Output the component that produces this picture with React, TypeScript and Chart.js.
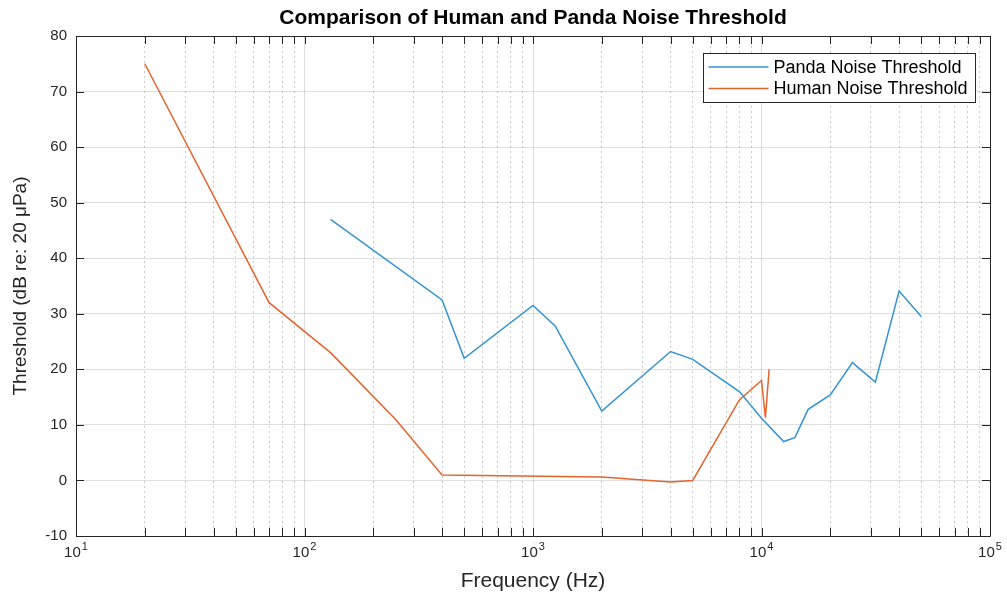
import { useEffect, useRef } from "react";
import { Chart, registerables } from "chart.js";

Chart.register(...registerables);

// ---- data ----
const pandaFreqHz = [130, 400, 500, 1000, 1250, 2000, 4000, 5000, 8000, 10000, 12500, 14000, 16000, 20000, 25000, 31500, 40000, 50000];
const pandaThresholdDb = [47, 32.5, 22, 31.5, 27.8, 12.5, 23.2, 21.8, 16, 11.2, 7, 7.7, 12.8, 15.4, 21.2, 17.7, 34.1, 29.5];
const humanFreqHz = [20, 70, 130, 250, 400, 2000, 4000, 5000, 8000, 10000, 10400, 10800];
const humanThresholdDb = [75, 32, 23, 11, 1, 0.6, -0.3, 0, 14.5, 18, 11.3, 20];
const seriesLabels = ["Panda Noise Threshold", "Human Noise Threshold"];
const xTickValues = [10, 20, 30, 40, 50, 60, 70, 80, 90, 100, 200, 300, 400, 500, 600, 700, 800, 900, 1000, 2000, 3000, 4000, 5000, 6000, 7000, 8000, 9000, 10000, 20000, 30000, 40000, 50000, 60000, 70000, 80000, 90000, 100000];
const xMajorExponents: Record<number, string> = { 10: "1", 100: "2", 1000: "3", 10000: "4", 100000: "5" };
const xMajorBase = "10";
const xMin = 10;
const xMax = 100000;
const yMin = -10;
const yMax = 80;
const yStep = 10;
const titleText = "Comparison of Human and Panda Noise Threshold";
const xAxisTitle = "Frequency (Hz)";
const yAxisTitle = "Threshold (dB re: 20 μPa)";

// ---- styles ----
const FONT = "'Liberation Sans', Arial, Helvetica, sans-serif";
const PANDA_COLOR = "#3493d3";
const HUMAN_COLOR = "#e2652f";
const AXIS_COLOR = "#262626";

const isMajor = (v: number) => xMajorExponents[v] !== undefined;

const titlePlugin = {
  id: "centeredTitle",
  afterDraw(chart: any) {
    const { ctx, chartArea } = chart;
    ctx.save();
    ctx.font = `bold 21px ${FONT}`;
    ctx.fillStyle = "#000";
    ctx.textAlign = "center";
    ctx.textBaseline = "middle";
    ctx.fillText(titleText, (chartArea.left + chartArea.right) / 2, 18);
    ctx.restore();
  },
};

// draws "10" with a raised exponent under each decade tick of the x scale
const xLabelPlugin = {
  id: "powerLabels",
  afterDraw(chart: any) {
    const { ctx, chartArea } = chart;
    const xs = chart.scales.x;
    ctx.save();
    ctx.fillStyle = AXIS_COLOR;
    ctx.textAlign = "left";
    ctx.textBaseline = "alphabetic";
    xs.ticks.forEach((t: any) => {
      const exp = xMajorExponents[t.value];
      if (exp === undefined) return;
      const px = xs.getPixelForValue(t.value);
      ctx.font = `15px ${FONT}`;
      const w1 = ctx.measureText(xMajorBase).width;
      ctx.font = `11px ${FONT}`;
      const w2 = ctx.measureText(exp).width;
      const start = px - (w1 + 1 + w2) / 2;
      ctx.font = `15px ${FONT}`;
      ctx.fillText(xMajorBase, start, chartArea.bottom + 21);
      ctx.font = `11px ${FONT}`;
      ctx.fillText(exp, start + w1 + 1, chartArea.bottom + 14);
    });
    ctx.restore();
  },
};

const boxPlugin = {
  id: "matlabBox",
  afterDatasetsDraw(chart: any) {
    const { ctx, chartArea } = chart;
    const { left, right, top, bottom } = chartArea;
    const xs = chart.scales.x;
    const ys = chart.scales.y;
    ctx.save();
    ctx.strokeStyle = AXIS_COLOR;
    ctx.lineWidth = 1;
    ctx.beginPath();
    ctx.rect(Math.round(left) + 0.5, Math.round(top) + 0.5, Math.round(right - left), Math.round(bottom - top));
    ctx.stroke();
    ctx.beginPath();
    xs.ticks.forEach((t: any) => {
      const px = Math.round(xs.getPixelForValue(t.value)) + 0.5;
      const len = 8;
      ctx.moveTo(px, bottom);
      ctx.lineTo(px, bottom - len);
      ctx.moveTo(px, top);
      ctx.lineTo(px, top + len);
    });
    ys.ticks.forEach((t: any) => {
      const py = Math.round(ys.getPixelForValue(t.value)) + 0.5;
      ctx.moveTo(left, py);
      ctx.lineTo(left + 8, py);
      ctx.moveTo(right, py);
      ctx.lineTo(right - 8, py);
    });
    ctx.stroke();
    ctx.restore();
  },
};

const legendPlugin = {
  id: "insideLegend",
  afterDraw(chart: any) {
    const { ctx, chartArea } = chart;
    const w = 272;
    const h = 49;
    const x0 = Math.round(chartArea.right - 15 - w) + 0.5;
    const y0 = Math.round(chartArea.top + 17) + 0.5;
    ctx.save();
    ctx.fillStyle = "#ffffff";
    ctx.fillRect(x0, y0, w, h);
    ctx.strokeStyle = AXIS_COLOR;
    ctx.lineWidth = 1;
    ctx.strokeRect(x0, y0, w, h);
    ctx.font = `18px ${FONT}`;
    ctx.textBaseline = "middle";
    ctx.textAlign = "left";
    chart.data.datasets.forEach((ds: any, i: number) => {
      const cy = y0 + 13.5 + i * 21.5;
      ctx.strokeStyle = ds.borderColor;
      ctx.lineWidth = 1.5;
      ctx.beginPath();
      ctx.moveTo(x0 + 5, cy);
      ctx.lineTo(x0 + 65, cy);
      ctx.stroke();
      ctx.fillStyle = "#000";
      ctx.fillText(ds.label, x0 + 70, cy + 1);
    });
    ctx.restore();
  },
};

export default function App() {
  const canvasRef = useRef<HTMLCanvasElement>(null);

  useEffect(() => {
    document.body.style.margin = "0";
    const canvas = canvasRef.current;
    if (!canvas) return;
    const chart = new Chart(canvas, {
      type: "line",
      data: {
        datasets: [
          {
            label: seriesLabels[0],
            data: pandaFreqHz.map((f, i) => ({ x: f, y: pandaThresholdDb[i] })),
            borderColor: PANDA_COLOR,
            backgroundColor: PANDA_COLOR,
            borderWidth: 1.5,
            pointRadius: 0,
            tension: 0,
            fill: false,
          },
          {
            label: seriesLabels[1],
            data: humanFreqHz.map((f, i) => ({ x: f, y: humanThresholdDb[i] })),
            borderColor: HUMAN_COLOR,
            backgroundColor: HUMAN_COLOR,
            borderWidth: 1.5,
            pointRadius: 0,
            tension: 0,
            fill: false,
          },
        ],
      },
      options: {
        animation: false,
        responsive: false,
        events: [],
        layout: { padding: { left: 0, right: 17, top: 36, bottom: 0 } },
        plugins: {
          legend: { display: false },
          tooltip: { enabled: false },
          title: { display: false },
        },
        scales: {
          x: {
            type: "logarithmic",
            position: "bottom",
            min: xMin,
            max: xMax,
            afterBuildTicks: (scale: any) => {
              scale.ticks = xTickValues.map((v) => ({ value: v, major: isMajor(v) }));
            },
            afterFit: (scale: any) => {
              scale.height = 60;
            },
            ticks: {
              display: false,
              autoSkip: false,
              maxRotation: 0,
              minRotation: 0,
            },
            grid: {
              drawTicks: false,
              color: (ctx: any) => (ctx.tick && ctx.tick.major ? "rgba(0,0,0,0.13)" : "rgba(0,0,0,0.2)"),
              lineWidth: 1,
            },
            border: {
              display: false,
              dash: (ctx: any) => (ctx.tick && !ctx.tick.major ? [2, 3] : []),
            },
            title: {
              display: true,
              text: xAxisTitle,
              color: AXIS_COLOR,
              font: { family: FONT, size: 21 },
              padding: { top: 0, bottom: 2 },
            },
          },
          y: {
            type: "linear",
            position: "left",
            min: yMin,
            max: yMax,
            afterFit: (scale: any) => {
              scale.width = 76;
            },
            ticks: {
              stepSize: yStep,
              padding: 9,
              color: AXIS_COLOR,
              font: { family: FONT, size: 15 },
            },
            grid: {
              drawTicks: false,
              color: "rgba(0,0,0,0.13)",
              lineWidth: 1,
            },
            border: { display: false },
            title: {
              display: true,
              text: yAxisTitle,
              color: AXIS_COLOR,
              font: { family: FONT, size: 19 },
              padding: { top: 9, bottom: 0 },
            },
          },
        },
      },
      plugins: [boxPlugin, legendPlugin, titlePlugin, xLabelPlugin],
    } as any);
    return () => chart.destroy();
  }, []);

  return (
    <div style={{ position: "absolute", left: 0, top: 0, width: 1007, height: 596, background: "#fff" }}>
      <canvas ref={canvasRef} width={1007} height={596} />
    </div>
  );
}
